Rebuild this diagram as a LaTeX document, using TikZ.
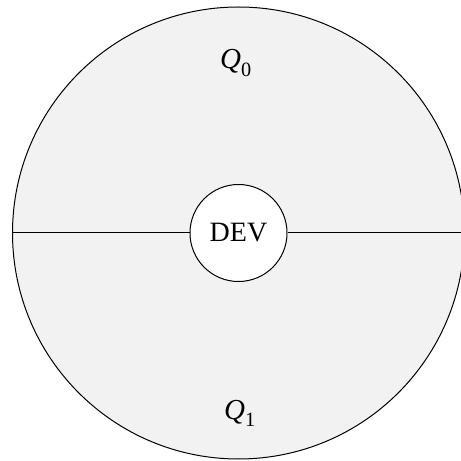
\documentclass[tikz,border=0pt]{standalone}
\usepackage{fontspec}
\setmainfont{Liberation Serif}
\usepackage{unicode-math}
\setmathfont{Latin Modern Math}
\setmathfont[range=it]{Liberation Serif Italic}
\setmathfont[range=up/num]{Liberation Serif}
\usetikzlibrary{positioning}
\tikzset{
    region/.style={draw, line width=1pt, circle, fill=black!5, inner sep=0pt},
    devbox/.style={draw, line width=1pt, circle, fill=white, inner sep=0pt, font=\fontsize{28}{30}\selectfont},
    qlabel/.style={font=\fontsize{29}{31}\selectfont},
}
\begin{document}
\begin{tikzpicture}[x=1pt, y=1pt]
    \useasboundingbox (0, 0) rectangle (461, 461);
    % 外圈区域
    \node[region, minimum size=452pt] (space) at (238.5, 228) {};
    % 中心设备
    \node[devbox, minimum size=97pt] (dev) at (238.5, 228) {DEV};
    \draw[line width=1pt] (dev.west) -- (space.west);
    \draw[line width=1pt] (dev.east) -- (space.east);
    % 两个半区
    \node[qlabel] (q0) at (236, 398) {$Q_0$};
    \node[qlabel] (q1) at (240, 48) {$Q_1$};
\end{tikzpicture}
\end{document}
